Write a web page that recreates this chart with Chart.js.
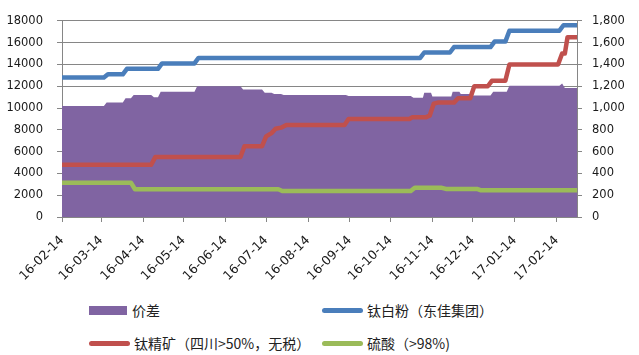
<!DOCTYPE html>
<html>
<head>
<meta charset="utf-8">
<script src="https://cdn.jsdelivr.net/npm/chart.js@4"></script>
<style>
body { margin: 0; background: #fff; }
#wrap { position: relative; width: 639px; height: 355px; font-family: "Noto Sans CJK SC", sans-serif; }
canvas { display: block; }
.legend-item { position: absolute; font-size: 14px; color: #222; display: flex; align-items: center; white-space: nowrap; height: 20px; }
.box { width: 38px; height: 9px; margin-right: 5px; }
.line { width: 41px; height: 5px; border-radius: 3px; margin-right: 4px; }
</style>
</head>
<body>
<div id="wrap">
  <canvas id="chart" width="639" height="290"></canvas>
  <div class="legend-item" style="left:89px; top:300px;"><span class="box" style="background:#8064A2"></span>价差</div>
  <div class="legend-item" style="left:322px; top:300px;"><span class="line" style="background:#4A7EBB"></span>钛白粉（东佳集团）</div>
  <div class="legend-item" style="left:89px; top:333px;"><span class="line" style="background:#C0504D"></span>钛精矿（四川&gt;50%，无税）</div>
  <div class="legend-item" style="left:322px; top:333px;"><span class="line" style="background:#9BBB59"></span>硫酸（&gt;98%)</div>
</div>
<script>
// price readings as [date, value]
const startDate = '2016-02-14';
const endDate = '2017-03-01';

const tickDates = ['2016-02-14', '2016-03-14', '2016-04-14', '2016-05-14', '2016-06-14', '2016-07-14',
  '2016-08-14', '2016-09-14', '2016-10-14', '2016-11-14', '2016-12-14', '2017-01-14', '2017-02-14'];
const tickLabels = ['16-02-14', '16-03-14', '16-04-14', '16-05-14', '16-06-14', '16-07-14',
  '16-08-14', '16-09-14', '16-10-14', '16-11-14', '16-12-14', '17-01-14', '17-02-14'];

// 价差 (left axis)
const priceSpread = [
  ['2016-02-14', 10200], ['2016-03-16', 10200], ['2016-03-18', 10500], ['2016-03-30', 10500],
  ['2016-04-01', 10900], ['2016-04-05', 10900], ['2016-04-07', 11200], ['2016-04-20', 11200],
  ['2016-04-22', 11000], ['2016-04-25', 11000], ['2016-04-27', 11500], ['2016-05-22', 11500],
  ['2016-05-24', 12000], ['2016-06-25', 12000], ['2016-06-27', 11700], ['2016-07-11', 11700],
  ['2016-07-13', 11400], ['2016-07-18', 11400], ['2016-07-20', 11300], ['2016-07-25', 11300],
  ['2016-07-27', 11200], ['2016-09-11', 11200], ['2016-09-13', 11100], ['2016-10-29', 11100],
  ['2016-10-31', 10950], ['2016-11-07', 10950], ['2016-11-08', 11400], ['2016-11-13', 11400],
  ['2016-11-14', 11050], ['2016-11-28', 11050], ['2016-11-29', 11500], ['2016-12-04', 11500],
  ['2016-12-05', 11300], ['2016-12-12', 11300], ['2016-12-13', 11150], ['2016-12-27', 11150],
  ['2016-12-29', 11500], ['2017-01-08', 11500], ['2017-01-10', 12050], ['2017-02-16', 12050],
  ['2017-02-18', 12250], ['2017-02-20', 11850], ['2017-03-01', 11850]
];

// 钛白粉 (left axis)
const titaniumDioxide = [
  ['2016-02-14', 12800], ['2016-03-16', 12800], ['2016-03-19', 13100], ['2016-03-30', 13100],
  ['2016-04-02', 13600], ['2016-04-25', 13600], ['2016-04-28', 14100], ['2016-05-22', 14100],
  ['2016-05-25', 14600], ['2016-11-05', 14600], ['2016-11-08', 15100], ['2016-11-27', 15100],
  ['2016-11-30', 15600], ['2016-12-27', 15600], ['2016-12-30', 16100], ['2017-01-07', 16100],
  ['2017-01-10', 17100], ['2017-02-16', 17100], ['2017-02-19', 17600], ['2017-03-01', 17600]
];

// 钛精矿 (right axis)
const ilmenite = [
  ['2016-02-14', 480], ['2016-04-20', 480], ['2016-04-23', 550], ['2016-06-25', 550],
  ['2016-06-28', 650], ['2016-07-11', 650], ['2016-07-14', 740], ['2016-07-18', 770],
  ['2016-07-21', 810], ['2016-07-25', 820], ['2016-07-29', 845], ['2016-09-10', 845],
  ['2016-09-13', 900], ['2016-10-28', 900], ['2016-10-30', 915], ['2016-11-09', 915],
  ['2016-11-12', 930], ['2016-11-15', 1040], ['2016-11-18', 1050], ['2016-11-30', 1050],
  ['2016-12-03', 1090], ['2016-12-12', 1090], ['2016-12-15', 1200], ['2016-12-25', 1200],
  ['2016-12-28', 1250], ['2017-01-07', 1250], ['2017-01-10', 1400], ['2017-02-15', 1400],
  ['2017-02-18', 1500], ['2017-02-20', 1500], ['2017-02-22', 1650], ['2017-03-01', 1650]
];

// 硫酸 (right axis)
const sulfuricAcid = [
  ['2016-02-14', 315], ['2016-04-05', 315], ['2016-04-08', 255], ['2016-07-23', 255],
  ['2016-07-26', 238], ['2016-10-29', 238], ['2016-11-01', 268], ['2016-11-21', 268],
  ['2016-11-24', 258], ['2016-12-17', 258], ['2016-12-20', 245], ['2017-03-01', 245]
];

function dayOf(s) {
  return (Date.parse(s) - Date.parse(startDate)) / 86400000;
}
const toPoints = rows => rows.map(r => ({ x: dayOf(r[0]), y: r[1] }));

const tickFont = { family: 'DejaVu Sans', size: 11.5 };
const gridColor = '#868686';

const ctx = document.getElementById('chart').getContext('2d');
new Chart(ctx, {
  type: 'line',
  data: {
    datasets: [
      {
        label: '价差',
        data: toPoints(priceSpread),
        yAxisID: 'y',
        backgroundColor: '#8064A2',
        borderWidth: 0,
        fill: 'origin',
        pointRadius: 0,
        order: 4
      },
      {
        label: '钛白粉（东佳集团）',
        data: toPoints(titaniumDioxide),
        yAxisID: 'y',
        borderColor: '#4A7EBB',
        borderWidth: 4.5,
        borderCapStyle: 'round',
        borderJoinStyle: 'round',
        fill: false,
        pointRadius: 0,
        order: 1
      },
      {
        label: '钛精矿（四川>50%，无税）',
        data: toPoints(ilmenite),
        yAxisID: 'y1',
        borderColor: '#C0504D',
        borderWidth: 4.5,
        borderCapStyle: 'round',
        borderJoinStyle: 'round',
        fill: false,
        pointRadius: 0,
        order: 2
      },
      {
        label: '硫酸（>98%)',
        data: toPoints(sulfuricAcid),
        yAxisID: 'y1',
        borderColor: '#9BBB59',
        borderWidth: 4.5,
        borderCapStyle: 'round',
        borderJoinStyle: 'round',
        fill: false,
        pointRadius: 0,
        order: 3
      }
    ]
  },
  options: {
    responsive: false,
    animation: false,
    layout: { padding: { top: 11, left: 0, right: 0, bottom: 0 } },
    plugins: {
      legend: { display: false },
      tooltip: { enabled: false }
    },
    scales: {
      x: {
        type: 'linear',
        min: 0,
        max: dayOf(endDate),
        afterBuildTicks: axis => { axis.ticks = tickDates.map(d => ({ value: dayOf(d) })); },
        afterFit: scale => { scale.height = 73; },
        grid: { drawOnChartArea: false, drawTicks: true, tickLength: 5, color: gridColor },
        border: { color: gridColor },
        ticks: {
          autoSkip: false,
          minRotation: 45,
          maxRotation: 45,
          padding: 11,
          color: '#1a1a1a',
          font: { family: 'DejaVu Sans', size: 12.5 },
          callback: (value, index) => tickLabels[index]
        }
      },
      y: {
        position: 'left',
        min: 0,
        max: 18000,
        afterFit: scale => { scale.width = 62; },
        grid: { color: gridColor, tickLength: 5 },
        border: { color: gridColor },
        ticks: { stepSize: 2000, padding: 14, color: '#1a1a1a', font: tickFont, callback: value => String(value) }
      },
      y1: {
        position: 'right',
        min: 0,
        max: 1800,
        afterFit: scale => { scale.width = 62; },
        grid: { drawOnChartArea: false, tickLength: 5, color: gridColor },
        border: { color: gridColor },
        ticks: {
          stepSize: 200,
          padding: 10,
          color: '#1a1a1a',
          font: tickFont,
          callback: value => value.toLocaleString('en-US')
        }
      }
    }
  }
});
</script>
</body>
</html>
